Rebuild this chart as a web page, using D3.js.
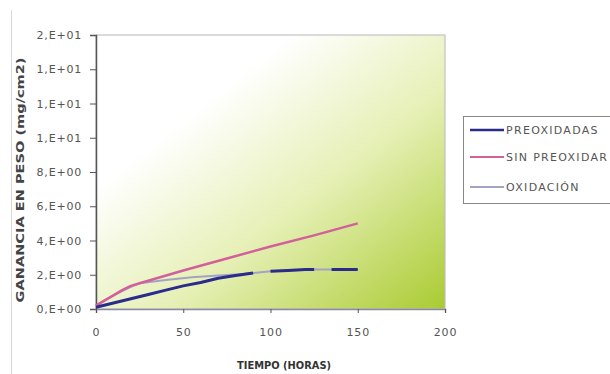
<!DOCTYPE html>
<html>
<head>
<meta charset="utf-8">
<script src="https://cdn.jsdelivr.net/npm/d3@7"></script>
<style>
  body { margin: 0; background: #fff; }
  text { font-family: "DejaVu Sans", Arial, sans-serif; }
</style>
</head>
<body>
<div id="chart"></div>
<script>
"use strict";
// series: [hours, mg/cm2]
var seriesNames = ["PREOXIDADAS", "SIN PREOXIDAR", "OXIDACIÓN"];
var preoxidadas = [[0,0.1],[10,0.35],[20,0.6],[30,0.85],[40,1.1],[50,1.35],[60,1.55],[70,1.8],[80,1.95],[90,2.1],[95,null],[100,2.2],[110,2.25],[120,2.3],[125,2.3],[130,null],[135,2.3],[140,2.3],[150,2.3]];
var sinPreoxidar = [[0,0.2],[5,0.5],[10,0.8],[15,1.1],[20,1.35],[25,1.5],[50,2.25],[75,2.95],[100,3.65],[125,4.3],[150,5.0]];
var oxidacion = [[0,0.2],[10,0.8],[20,1.3],[25,1.5],[40,1.7],[55,1.85],[70,1.95],[85,2.05],[100,2.2],[125,2.3],[150,2.3]];
var xTicks = [0, 50, 100, 150, 200];
var yTicks = [0, 2, 4, 6, 8, 10, 12, 14, 16];
var colors = ["#2b2b8c", "#d1609b", "#a3a3c4"];
var widths = [3, 2.5, 2];

var W = 610, H = 374;
var m = {left: 96, top: 35, right: 165, bottom: 65};
var pw = W - m.left - m.right, ph = H - m.top - m.bottom;

var svg = d3.select('#chart').append('svg').attr('width', W).attr('height', H);

var defs = svg.append('defs');
var grad = defs.append('linearGradient').attr('id', 'bg')
  .attr('x1', 0).attr('y1', 0).attr('x2', 1).attr('y2', 1);
grad.append('stop').attr('offset', 0.28).attr('stop-color', '#ffffff');
grad.append('stop').attr('offset', 0.6).attr('stop-color', '#e6f0b6');
grad.append('stop').attr('offset', 1).attr('stop-color', '#aacb32');

// faint frame line on the left
svg.append('line').attr('x1', 11.5).attr('x2', 11.5).attr('y1', 10).attr('y2', H)
  .attr('stroke', '#d8d8d8');

var x = d3.scaleLinear().domain([0, 200]).range([m.left, m.left + pw]);
var y = d3.scaleLinear().domain([0, 16]).range([m.top + ph, m.top]);

svg.append('rect').attr('x', m.left).attr('y', m.top).attr('width', pw).attr('height', ph)
  .attr('fill', 'url(#bg)').attr('stroke', '#b8b8b8');

function sci(v) {
  if (v === 0) return '0,E+00';
  var e = Math.floor(Math.log10(v));
  var mm = Math.round(v / Math.pow(10, e));
  if (mm === 10) { mm = 1; e += 1; }
  return mm + ',E+' + (e < 10 ? '0' + e : e);
}

var yAxis = svg.append('g').attr('transform', 'translate(' + m.left + ',0)')
  .call(d3.axisLeft(y).tickValues(yTicks).tickFormat(sci).tickSize(6).tickPadding(8));
var xAxis = svg.append('g').attr('transform', 'translate(0,' + (m.top + ph) + ')')
  .call(d3.axisBottom(x).tickValues(xTicks).tickSize(4).tickPadding(15));

yAxis.select('.domain').attr('stroke', '#555').attr('stroke-width', 1.5);
xAxis.select('.domain').attr('stroke', '#8a8aa8').attr('stroke-width', 1.5);
svg.selectAll('.tick line').attr('stroke', '#555');
svg.selectAll('.tick text').attr('fill', '#555').style('font-size', '11px').style('letter-spacing', '0.8px');

var line = d3.line()
  .defined(function(d) { return d[1] !== null; })
  .x(function(d) { return x(d[0]); })
  .y(function(d) { return y(d[1]); });

[oxidacion, sinPreoxidar, preoxidadas].forEach(function(s) {
  var i = [preoxidadas, sinPreoxidar, oxidacion].indexOf(s);
  svg.append('path').datum(s).attr('d', line)
    .attr('fill', 'none').attr('stroke', colors[i]).attr('stroke-width', widths[i])
    .attr('stroke-linejoin', 'round');
});

// axis titles
svg.append('text').attr('transform', 'translate(24,' + (m.top + ph / 2 + 8) + ') rotate(-90)')
  .attr('text-anchor', 'middle').attr('fill', '#444').style('font-size', '11px').style('font-weight', 'bold')
  .attr('textLength', 245).attr('lengthAdjust', 'spacingAndGlyphs')
  .text('GANANCIA EN PESO (mg/cm2)');
svg.append('text').attr('x', 284).attr('y', 369)
  .attr('text-anchor', 'middle').attr('fill', '#333').style('font-size', '11px').style('font-weight', 'bold')
  .attr('textLength', 94).attr('lengthAdjust', 'spacingAndGlyphs')
  .text('TIEMPO (HORAS)');

// legend
var lg = svg.append('g');
lg.append('rect').attr('x', 463.5).attr('y', 116.5).attr('width', 160).attr('height', 87)
  .attr('fill', '#fff').attr('stroke', '#888');
var rowY = [130, 157, 187];
seriesNames.forEach(function(n, i) {
  lg.append('line').attr('x1', 470).attr('x2', 504).attr('y1', rowY[i]).attr('y2', rowY[i])
    .attr('stroke', colors[i]).attr('stroke-width', i === 0 ? 2.5 : 2);
  lg.append('text').attr('x', 506).attr('y', rowY[i] + 4).attr('fill', '#555')
    .style('font-size', '11px').style('letter-spacing', '1.3px').text(n);
});
</script>
</body>
</html>
